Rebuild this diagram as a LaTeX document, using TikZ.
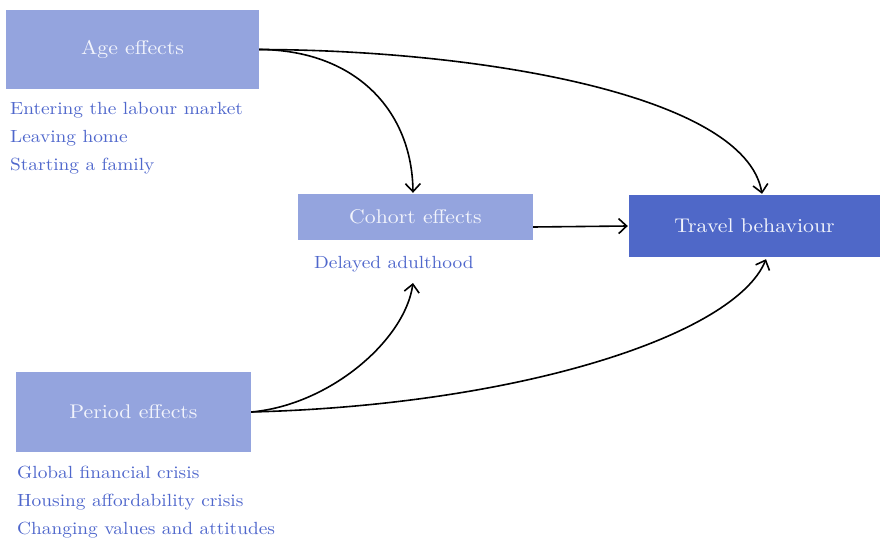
\documentclass[tikz,border=0pt]{standalone}
\usepackage{fontspec}
\setmainfont{lmroman10-regular}[Extension=.otf, FakeStretch=1.1]
\usetikzlibrary{arrows.meta}
\definecolor{lightbox}{HTML}{94A4DE}
\definecolor{darkbox}{HTML}{4F68C8}
\definecolor{listblue}{HTML}{4F67CC}
\definecolor{boxtext}{HTML}{F2F4FC}
\begin{document}
\begin{tikzpicture}[x=1pt,y=-1pt,
  effectbox/.style={rectangle, fill=lightbox, draw=none, inner sep=0pt,
    text=boxtext, font=\fontsize{19.8}{24}\selectfont},
  outcomebox/.style={effectbox, fill=darkbox},
  factors/.style={anchor=base west, align=left, inner sep=0pt, text=listblue,
    font=\fontsize{17.6}{28}\selectfont},
  link/.style={line width=1.6pt, -{Straight Barb[length=8pt,width=15pt,line width=1.6pt]}}]
\useasboundingbox (0,0) rectangle (880,540);

% boxes
\node[effectbox, minimum width=253pt, minimum height=79pt] (age) at (132.5,49.5) {Age effects};
\node[effectbox, minimum width=235pt, minimum height=46pt] (cohort) at (415.5,217) {Cohort effects};
\node[outcomebox, minimum width=251pt, minimum height=62pt] (travel) at (754.5,226) {Travel behaviour};
\node[effectbox, minimum width=235pt, minimum height=80pt] (period) at (133.5,412) {Period effects};

% explanatory factors (anchored at the baseline of the last line)
\node[factors] (agelist) at (10,171) {Entering the labour market\\Leaving home\\Starting a family};
\node[factors] (delayed) at (314,268) {Delayed adulthood};
\node[factors] (periodlist) at (17,534) {Global financial crisis\\Housing affordability crisis\\Changing values and attitudes};

\coordinate (cohortin) at (413,283);

% connectors
\draw[link] (age.east) .. controls (355,50) and (412,110) .. ([xshift=-2.5pt,yshift=1pt]cohort.north);
\draw[link] (age.east) .. controls (480,50) and (745,95) .. ([xshift=7.5pt,yshift=1pt]travel.north);
\draw[link] ([yshift=-10pt]cohort.east) -- ([xshift=-1pt]travel.west);
\draw[link] (period.east) .. controls (330,405) and (405,340) .. (cohortin);
\draw[link] (period.east) .. controls (520,405) and (735,335) .. ([xshift=11.5pt,yshift=-2pt]travel.south);
\end{tikzpicture}
\end{document}
